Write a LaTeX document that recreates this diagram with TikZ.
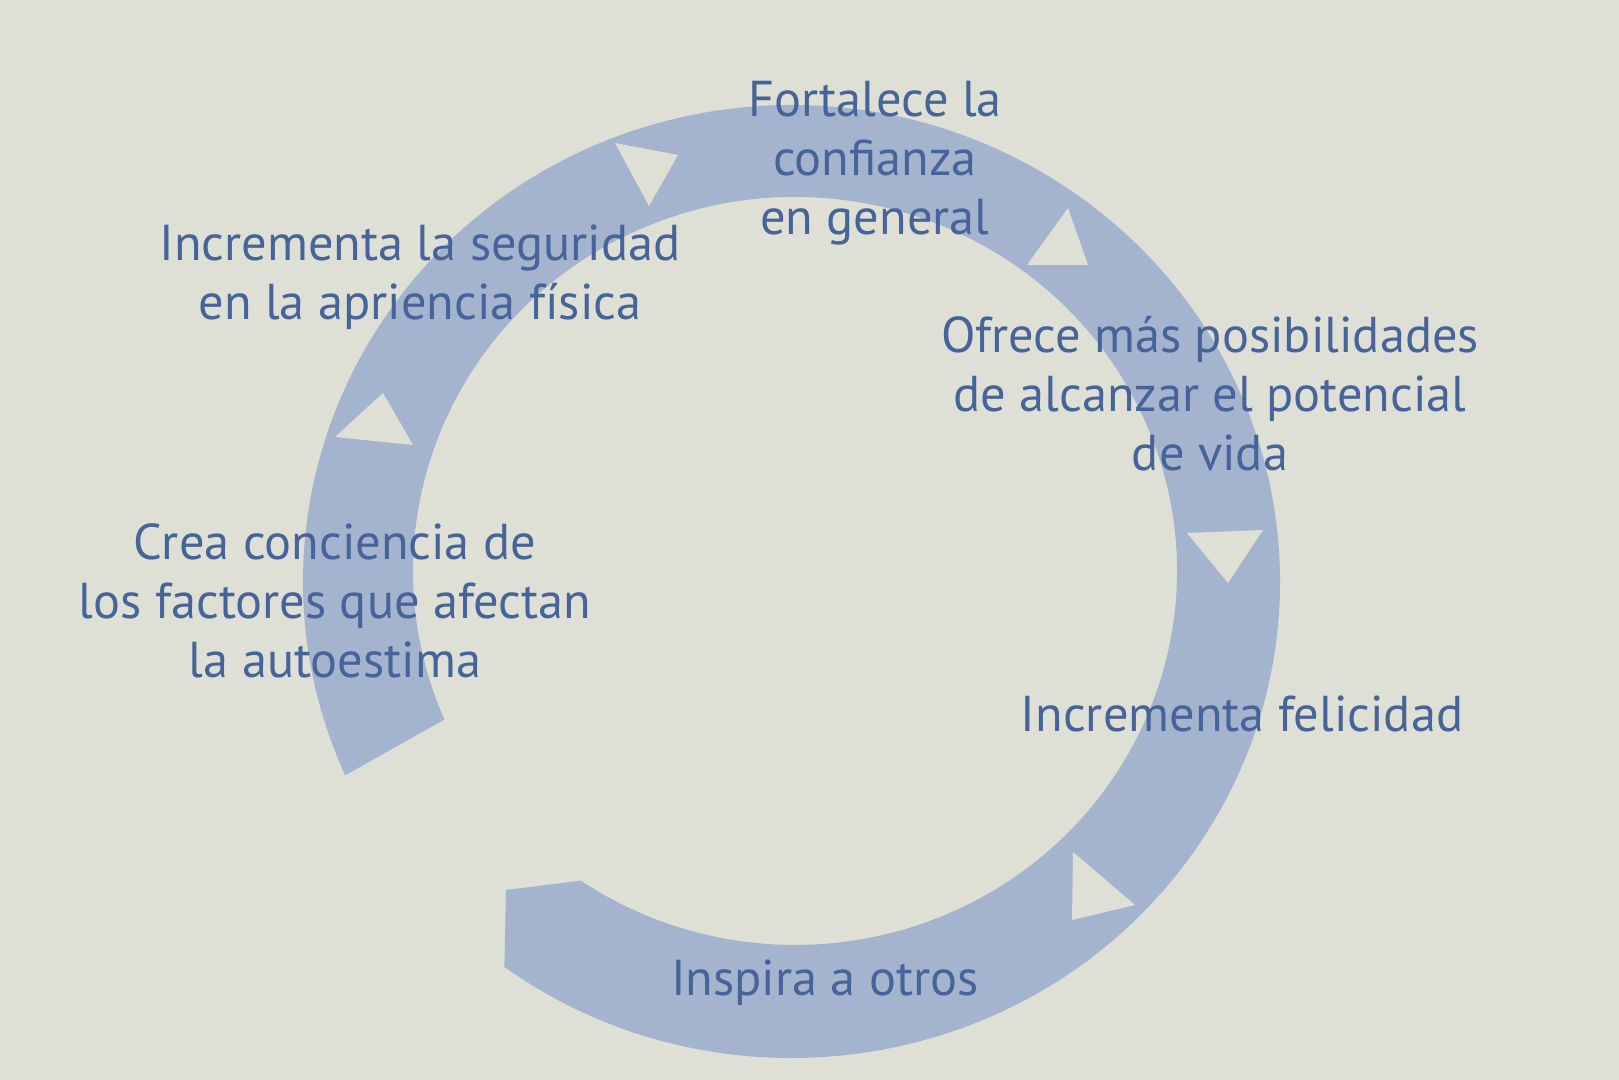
\documentclass[tikz,border=0pt]{standalone}
\usepackage{fontspec}
\setmainfont{PT Sans}
\usetikzlibrary{calc}
\definecolor{bgc}{RGB}{222,223,213}
\definecolor{bandc}{RGB}{164,180,207}
\definecolor{txtc}{RGB}{70,100,153}
\begin{document}
\begin{tikzpicture}[x=0.5pt,y=0.5pt,
  lbl/.style={text=txtc, font=\fontsize{25.2}{29.6}\selectfont, align=center, anchor=base, inner sep=0pt},
  tri/.style={fill=bgc}]
\fill[bgc] (0,0) rectangle (1619,1080);
\useasboundingbox (0,0) rectangle (1619,1080);
\coordinate (oc) at (791.5,498.5);
\coordinate (ic) at (795,509);
% ring band
\fill[bandc] ($(oc)+(234:244.25pt and 238.25pt)$)
  arc[start angle=234,end angle=564,x radius=244.25pt,y radius=238.25pt]
  -- ($(ic)+(563.4:191pt and 187pt)$)
  arc[start angle=563.4,end angle=235.9,x radius=191pt,y radius=187pt]
  -- (506,190) -- cycle;
% arrow triangles
\fill[tri] (615,937) -- (678,925) -- (649,874) -- cycle;
\fill[tri] (1068,872) -- (1027,815) -- (1088,815) -- cycle;
\fill[tri] (383,687) -- (335,643) -- (413,635) -- cycle;
\fill[tri] (1187,547) -- (1263,550) -- (1228,497) -- cycle;
\fill[tri] (1073,228) -- (1072,160) -- (1135,175) -- cycle;
% labels (anchor = baseline of last line)
\node[lbl] (fort) at (875,845) {Fortalece la\\confianza\\en general};
\node[lbl] (segur) at (420,760) {Incrementa la seguridad\\en la apriencia física};
\node[lbl] (ofrece) at (1210,609) {Ofrece más posibilidades\\de alcanzar el potencial\\de vida};
\node[lbl] (crea) at (335,402) {Crea conciencia de\\los factores que afectan\\la autoestima};
\node[lbl] (felic) at (1242,348) {Incrementa felicidad};
\node[lbl] (insp) at (825,84) {Inspira a otros};
\end{tikzpicture}
\end{document}
